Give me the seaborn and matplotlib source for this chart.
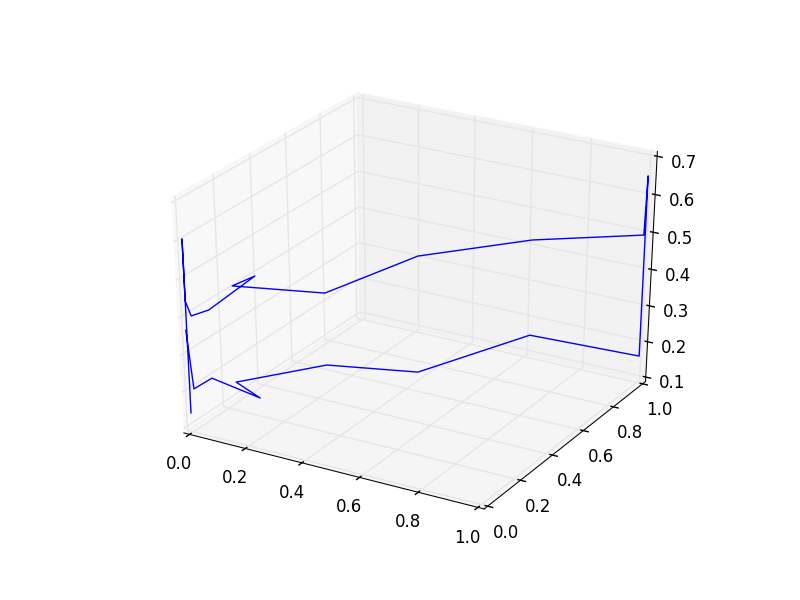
import matplotlib
matplotlib.use("Agg")

import matplotlib.pyplot as plt
import seaborn as sns

sns.set_style("white")
plt.style.use("classic")
plt.rcParams["font.family"] = ["DejaVu Sans"]
plt.rcParams["figure.facecolor"] = "white"
plt.rcParams["savefig.facecolor"] = "white"
plt.rcParams["axes3d.automargin"] = True

x_vals = [-0.003, -0.003, -0.003, 0.008, 0.046, 0.147, 0.098, 0.296, 0.499, 0.75, 1.0,
          1.003, 1.003, 0.75, 0.499, 0.297, 0.098, 0.149, 0.046, 0.006, -0.005]
y_vals = list(x_vals)
z_vals = [0.141, 0.606, 0.444, 0.403, 0.414, 0.491, 0.471, 0.427, 0.5, 0.512, 0.495,
          0.651, 0.162, 0.254, 0.185, 0.232, 0.212, 0.161, 0.23, 0.206, 0.367]
xy_ticks = [0, 0.2, 0.4, 0.6, 0.8, 1.0]
z_ticks = [0.1, 0.2, 0.3, 0.4, 0.5, 0.6, 0.7]

fig = plt.figure(figsize=(8, 6), dpi=100)
ax = fig.add_subplot(111, projection="3d")
ax.apply_aspect = lambda position=None: None  # fill the whole subplot rectangle
ax.set_box_aspect((1, 1, 1), zoom=0.94)
ax.plot(x_vals, y_vals, z_vals, color=sns.color_palette(["#0000ff"])[0], lw=1)
ax.set_xlim(0, 1)
ax.set_ylim(0, 1)
ax.set_zlim(0.1, 0.7)
ax.set_xticks(xy_ticks)
ax.set_yticks(xy_ticks)
ax.set_zticks(z_ticks)
for axis in (ax.xaxis, ax.yaxis, ax.zaxis):
    axis.pane.set_edgecolor((0.95, 0.95, 0.95, 0.5))
fig.savefig("out.png", dpi=100)
